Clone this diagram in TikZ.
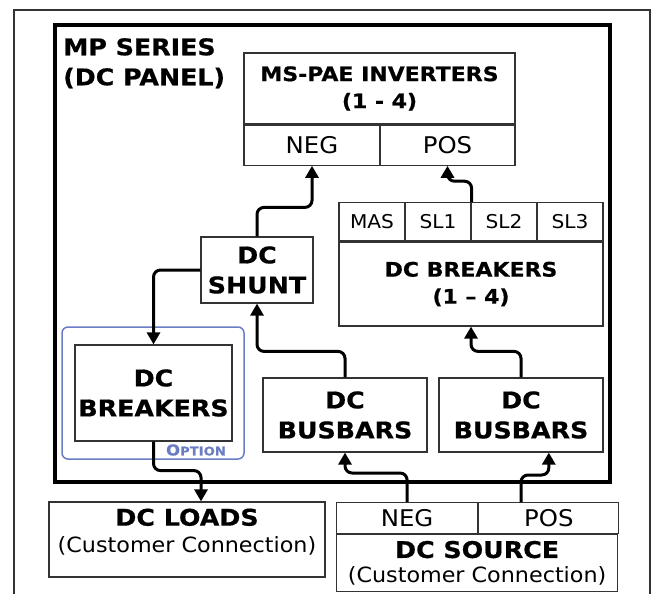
\documentclass[tikz,border=0pt]{standalone}
\usepackage{fontspec}
\setmainfont{DejaVu Sans}[FakeStretch=1.06, BoldFeatures={FakeStretch=1.1, FakeBold=0.6}]
\usetikzlibrary{arrows.meta}

\definecolor{boxgray}{HTML}{333333}
\definecolor{optblue}{HTML}{6A7DC4}

\tikzset{
  box/.style={draw=boxgray, line width=1.2pt, inner sep=0pt, align=center},
  bigtext/.style={font=\fontsize{23}{30}\selectfont\bfseries},
  midtext/.style={font=\fontsize{20}{27}\selectfont\bfseries},
  celltext/.style={font=\fontsize{23}{24}\selectfont},
  slottext/.style={font=\fontsize{19}{22}\selectfont},
  wire/.style={line width=3pt, rounded corners=7pt, -{Triangle[length=12pt,width=13pt]}},
}

\begin{document}
\begin{tikzpicture}[x=1pt, y=-1pt]
		\def\slotW{66};
		\def\slotH{38};
		\def\rowH{31};

		\useasboundingbox (0,0) rectangle (655,594);
		\draw[line width=2pt, draw=black!80] (14,594) -- (14,10) -- (650,10) -- (650,594); %cabinet
		\draw[line width=3.5pt] (55,25) rectangle (610,482); %panel
		\node[anchor=north west, bigtext, align=left, inner sep=0pt] (title) at (63,38) {MP SERIES\\(DC PANEL)};

		%inverters
		\node[box, midtext, minimum width=271, minimum height=71] (inv) at (379.5,88.5) {MS-PAE INVERTERS\\(1 - 4)};
		\node[box, celltext, minimum width=136, minimum height=40, anchor=north west] (invneg) at (inv.south west) {NEG};
		\node[box, celltext, minimum width=135, minimum height=40, anchor=north east] (invpos) at (inv.south east) {POS};

		%shunt
		\node[box, bigtext, minimum width=112, minimum height=66] (shunt) at (257,270) {DC\\SHUNT};

		%breakers 1-4
		\node[box, midtext, minimum width=264, minimum height=84] (brk) at (471,284) {DC BREAKERS\\(1 -- 4)};
		\foreach \lbl [count=\i from 0] in {MAS,SL1,SL2,SL3}
			\node[box, slottext, minimum width=\slotW, minimum height=\slotH, anchor=south west] (brk\lbl) at ([xshift=\i*\slotW pt]brk.north west) {\lbl};

		%option breakers
		\node[draw=optblue, line width=1.5pt, rounded corners=6pt, minimum width=182, minimum height=132] (option) at (153,393) {};
		\node[box, bigtext, minimum width=157, minimum height=96] (lbrk) at (153.5,393) {DC\\BREAKERS};
		\node[text=optblue, font=\bfseries, inner sep=0pt] (optlbl) at (196,450) {{\fontsize{15}{15}\selectfont O}{\fontsize{12}{12}\selectfont PTION}};

		%busbars
		\node[box, bigtext, minimum width=164, minimum height=74] (lbus) at (345,415) {DC\\BUSBARS};
		\node[box, bigtext, minimum width=164, minimum height=74] (rbus) at (521,415) {DC\\BUSBARS};

		%customer side
		\node[box, minimum width=276, minimum height=75] (loads) at (187,539.5) {};
		\node[anchor=north, align=center, inner sep=0pt, font=\fontsize{21}{27}\selectfont] (loadstxt) at ([yshift=-7pt]loads.north) {{\fontsize{23}{27}\selectfont\bfseries DC LOADS}\\(Customer Connection)};
		\node[box, celltext, minimum width=141, minimum height=\rowH, anchor=north west] (srcneg) at (336,502) {NEG};
		\node[box, celltext, minimum width=140, minimum height=\rowH, anchor=north west] (srcpos) at (srcneg.north east) {POS};
		\node[box, minimum width=281, minimum height=57, anchor=north west, font=\fontsize{21}{25}\selectfont] (src) at (srcneg.south west) {{\fontsize{23}{25}\selectfont\bfseries DC SOURCE}\\(Customer Connection)};

		%wires
		\draw[wire] (shunt.north) -- ++(0,-29) -| (invneg.south);
		\draw[wire] (brkSL1.north east) -- ++(0,-21) -| (invpos.south);
		\draw[wire] (shunt.west) -| (lbrk.north);
		\draw[wire] (lbus.north) -- ++(0,-26) -| (shunt.south);
		\draw[wire] (rbus.north) -- ++(0,-26) -| (brk.south);
		\draw[wire] (lbrk.south) -- ++(0,29) -| ([xshift=14pt]loads.north);
		\draw[wire] (srcneg.north) -- ++(0,-29) -| (lbus.south);
		\draw[wire] (srcpos.north -| rbus.south) -- ++(0,-27) -| (rbus.south -| srcpos.north);
	\end{tikzpicture}
\end{document}
